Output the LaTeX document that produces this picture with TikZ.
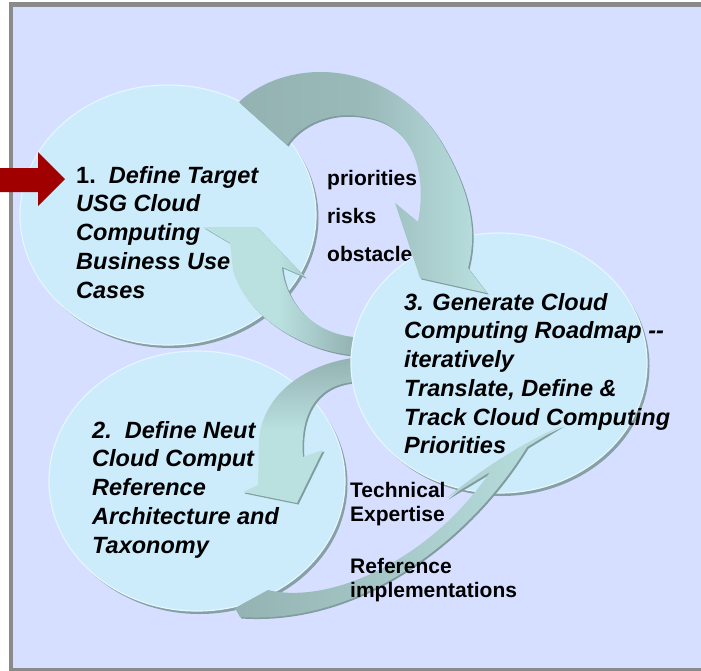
\documentclass[tikz,border=0pt]{standalone}
\usepackage{fontspec}
\setmainfont{Liberation Sans}
\usetikzlibrary{shapes.geometric,shadows}

\definecolor{slidebg}{RGB}{214,223,255}
\definecolor{framegray}{RGB}{138,138,138}
\definecolor{phasefill}{RGB}{204,236,252}
\definecolor{phaserim}{RGB}{228,246,255}
\definecolor{phaseshadow}{RGB}{135,160,166}
\definecolor{loopdark}{RGB}{148,178,178}
\definecolor{looplight}{RGB}{186,224,224}
\definecolor{loopedge}{RGB}{128,156,158}
\definecolor{startred}{RGB}{160,0,0}

\begin{document}
\begin{tikzpicture}[x=1pt,y=-1pt,
  phase/.style={ellipse,fill=phasefill,draw=phaserim,line width=1.2pt,
    minimum width=296pt,minimum height=260pt,inner sep=0pt,
    drop shadow={shadow xshift=2.5pt,shadow yshift=-3pt,fill=phaseshadow,opacity=1}},
  phasetext/.style={anchor=north west,align=left,inner sep=0pt,
    font=\fontsize{23.5}{28.7}\selectfont\bfseries\itshape},
  looptext/.style={anchor=north west,align=left,inner sep=0pt,
    font=\fontsize{21}{24.5}\selectfont\bfseries},
  looparrow/.style={drop shadow={shadow xshift=1.5pt,shadow yshift=-1.5pt,fill=loopedge,opacity=1}}]

  \useasboundingbox (0,0) rectangle (701,670);
  \fill[white] (0,0) rectangle (701,670);
  \draw[framegray,line width=4.5pt,fill=slidebg] (11.2,4.5) rectangle (720,670);

  \node[phase] (define) at (168,215) {};
  \node[phasetext] (definetext) at (76,166) {{\upshape 1.}~~Define Target\\USG Cloud\\Computing\\Business Use\\Cases};

  \node[phase] (neutral) at (197,481) {};
  \node[phasetext] (neutraltext) at (92,421) {2.~~Define Neut\\Cloud Comput\\Reference\\Architecture and\\Taxonomy};

  \node[looptext,font=\fontsize{21}{38}\selectfont\bfseries] (issues) at (327,170) {priorities\\risks\\obstacle};

  \path[looparrow,left color=looplight,right color=loopdark,middle color=looplight]
    (203,227) -- (257,227) -- (305,277) -- (282,267)
    .. controls (285,300) and (310,332) .. (353,337) -- (352,355)
    .. controls (300,350) and (245,315) .. (233,270) -- (230,243) -- cycle;
  \path[looparrow,top color=loopdark,bottom color=looplight,middle color=looplight]
    (352,358) .. controls (300,366) and (262,398) .. (259,440) -- (258,485) -- (243,492)
    -- (297,503) -- (323,450) -- (303,457)
    .. controls (300,420) and (312,386) .. (353,382) -- cycle;

  \node[phase] (roadmap) at (499,363) {};

  \path[looparrow,left color=loopdark,right color=looplight,middle color=loopdark!85!looplight]
    (239,102) .. controls (290,55) and (390,60) .. (440,140)
    .. controls (470,190) and (478,230) .. (468,268) -- (487,293) -- (420,278) -- (395,203) -- (418,222)
    .. controls (427,175) and (415,125) .. (365,117)
    .. controls (330,110) and (300,125) .. (287,145) -- cycle;
  \path[looparrow,left color=loopdark,right color=looplight]
    (268,590) .. controls (330,605) and (430,560) .. (490,472) -- (447,498)
    .. controls (490,462) and (530,440) .. (563,425) -- (527,447)
    .. controls (470,540) and (360,625) .. (240,617) -- (235,608) -- cycle;

  \node[phasetext] (roadmaptext) at (404,293) {3. Generate Cloud\\Computing Roadmap {-}{-}\\iteratively\\Translate, Define \&\\Track Cloud Computing\\Priorities};
  \node[looptext] (expertise) at (350,482) {Technical\\Expertise\\[27pt]Reference\\implementations};

  \fill[startred] (0,168) -- (38,168) -- (38,152) -- (65,179) -- (38,206) -- (38,192) -- (0,192) -- cycle;
\end{tikzpicture}
\end{document}
